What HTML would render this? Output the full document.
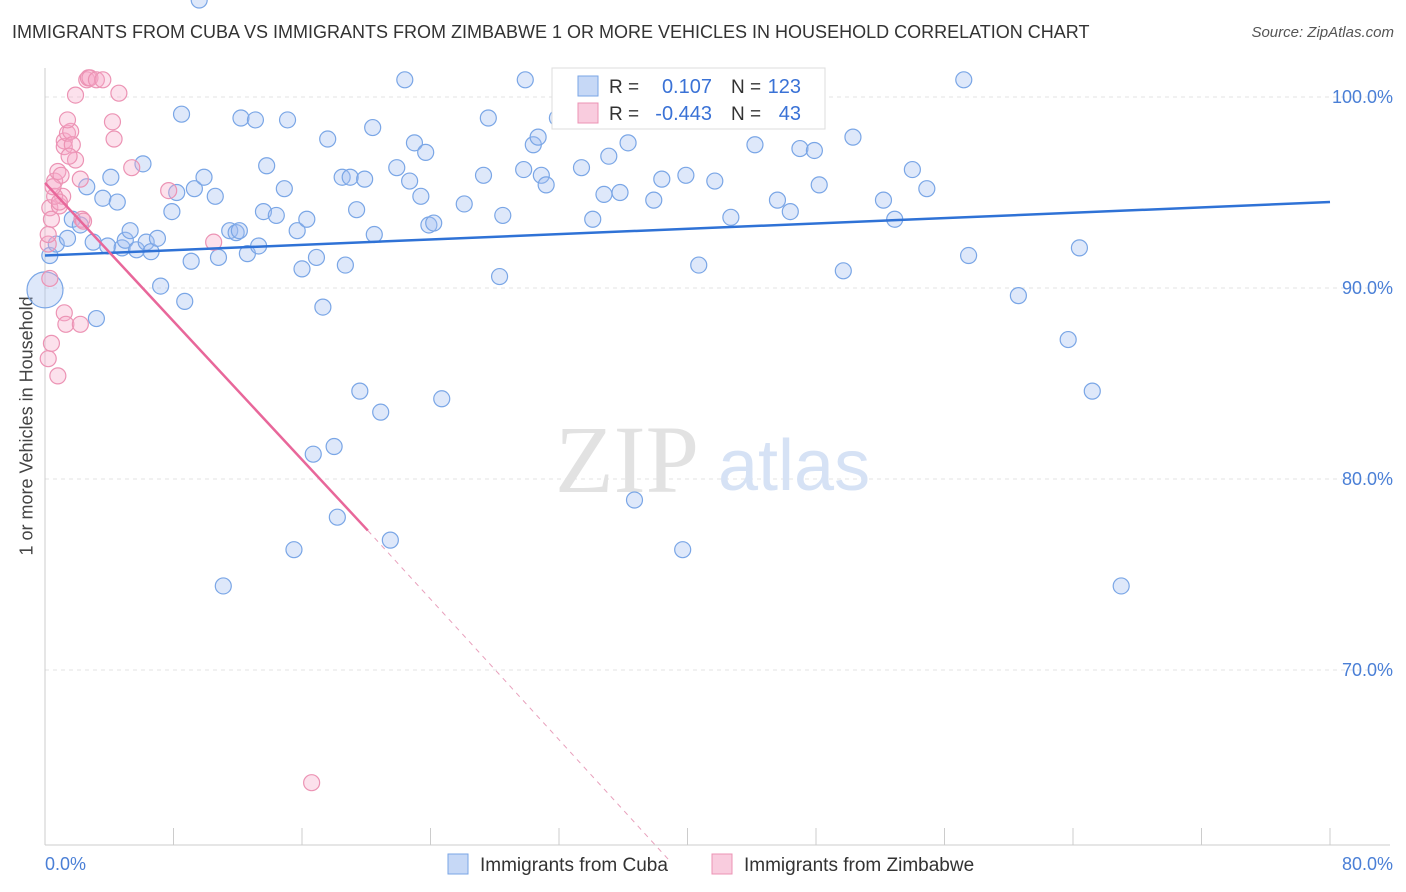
<!DOCTYPE html>
<html><head><meta charset="utf-8">
<style>
body{margin:0;background:#fff;font-family:"Liberation Sans",sans-serif;}
#wrap{position:relative;width:1406px;height:892px;overflow:hidden;}
.t{position:absolute;white-space:nowrap;}
</style></head>
<body>
<div id="wrap">
<div class="t" style="left:12px;top:22px;font-size:18px;color:#333;">IMMIGRANTS FROM CUBA VS IMMIGRANTS FROM ZIMBABWE 1 OR MORE VEHICLES IN HOUSEHOLD CORRELATION CHART</div>
<div class="t" style="right:12px;top:24px;font-size:15px;color:#555;font-style:italic;">Source: ZipAtlas.com</div>
<div class="t" style="left:-73px;top:445px;font-size:18px;color:#444;transform:rotate(-90deg);width:200px;text-align:center;">1 or more Vehicles in Household</div>
<svg id="svg" width="1406" height="892" style="position:absolute;left:0;top:0"></svg>
</div>
<script>
const xTicksLabels=["0.0%","80.0%"];
const yTicks=[100,90,80,70];
const cubaX=[0,0.3,0.7,1.4,1.7,2.2,2.6,3,3.2,3.6,3.9,4.1,4.5,4.8,5,5.3,5.7,6.1,6.3,6.6,7,7.2,7.9,8.2,8.5,8.7,9.1,9.3,9.9,10.6,10.8,11.5,11.9,12.1,12.2,12.6,13.1,13.3,13.6,13.8,14.4,14.9,15.1,15.5,15.7,16,16.3,16.7,16.9,17.3,17.6,18,18.2,18.5,18.7,19,19.4,19.6,19.9,20.4,20.5,20.9,21.5,21.9,22.4,22.7,23,23.4,23.7,23.9,24.2,24.7,26.1,27.3,27.6,28.3,28.5,29.8,29.9,30.4,30.7,30.9,31.2,31.9,33.4,34.1,34.8,35.1,35.8,36.3,36.7,37.9,38.4,39.7,39.9,40.7,41.7,42.7,44.2,45.6,46.4,47,47.9,48.2,49.7,50.3,52.2,52.9,54,54.9,57.2,57.5,60.6,63.7,64.4,65.2,67,11.1,9.6];
const cubaY=[89.9,91.7,92.3,92.6,93.6,93.3,95.3,92.4,88.4,94.7,92.2,95.8,94.5,92.1,92.5,93,92,96.5,92.4,91.9,92.6,90.1,94,95,99.1,89.3,91.4,95.2,95.8,94.8,91.6,93,92.9,93,98.9,91.8,98.8,92.2,94,96.4,93.8,95.2,98.8,76.3,93,91,93.6,81.3,91.6,89,97.8,81.7,78,95.8,91.2,95.8,94.1,84.6,95.7,98.4,92.8,83.5,76.8,96.3,100.9,95.6,97.6,94.8,97.1,93.3,93.4,84.2,94.4,95.9,98.9,90.6,93.8,96.2,100.9,97.5,97.9,95.9,95.4,98.9,96.3,93.6,94.9,96.9,95,97.6,78.9,94.6,95.7,76.3,95.9,91.2,95.6,93.7,97.5,94.6,94,97.3,97.2,95.4,90.9,97.9,94.6,93.6,96.2,95.2,100.9,91.7,89.6,87.3,92.1,84.6,74.4,74.4];
const zimX=[0.3,0.2,0.4,0.8,0.2,0.3,0.4,0.6,0.8,0.9,1,1.1,1.2,1.2,1.4,1.6,1.4,1.7,1.9,1.9,2.2,2.3,2.4,2.6,2.7,2.8,3.2,3.6,4.2,4.3,4.6,5.4,7.7,10.5,1.2,1.3,2.2,16.6,0.6,0.2,0.9,1.5,0.5];
const zimY=[90.5,86.3,87.1,85.4,92.3,94.2,93.6,95.6,96.1,94.3,95.9,94.8,97.7,97.4,98.1,98.2,98.8,97.5,96.7,100.1,95.7,93.6,93.5,100.9,101,101,100.9,100.9,98.7,97.8,100.2,96.3,95.1,92.4,88.7,88.1,88.1,64.1,94.8,92.8,94.5,96.9,95.3];
const blueLine=[[0,91.7],[80,94.5]];
const pinkLine=[[0,95.5],[20.1,77.3],[38.9,60]];

const svg=document.getElementById('svg');
const NS='http://www.w3.org/2000/svg';
const xs=v=>45+v/80*1285, ys=v=>97+(100-v)*19.1;
function mk(tag,attrs,name,parent){const e=document.createElementNS(NS,tag);for(const k in attrs)e.setAttribute(k,attrs[k]);


(parent||svg).appendChild(e);return e;}
yTicks.forEach(v=>{
 mk('line',{x1:45,x2:1390,y1:ys(v),y2:ys(v),stroke:'#e3e3e3','stroke-dasharray':'4,4'},'gridline');
 const t=mk('text',{x:1393,y:ys(v)+6,'text-anchor':'end','font-size':18,fill:'#4a7fd6','font-family':'Liberation Sans'},'y-tick-label');t.textContent=v.toFixed(1)+'%';
});
mk('line',{x1:45,x2:45,y1:68,y2:845,stroke:'#ccc'},'y-axis-line');
mk('line',{x1:45,x2:1390,y1:845,y2:845,stroke:'#ccc'},'x-axis-line');
for(let i=0;i<=10;i++){mk('line',{x1:xs(i*8),x2:xs(i*8),y1:828,y2:845,stroke:'#ccc'},'x-tick');}
let t=mk('text',{x:45,y:870,'font-size':18,fill:'#4a7fd6','font-family':'Liberation Sans'},'x-tick-label');t.textContent=xTicksLabels[0];
t=mk('text',{x:1393,y:870,'text-anchor':'end','font-size':18,fill:'#4a7fd6','font-family':'Liberation Sans'},'x-tick-label');t.textContent=xTicksLabels[1];
// watermark
t=mk('text',{x:555,y:492,'font-size':96,fill:'#e2e2e2','font-family':'Liberation Serif'},'watermark-zip');t.textContent='ZIP';
t=mk('text',{x:718,y:490,'font-size':72,fill:'#d6e2f5','font-family':'Liberation Sans'},'watermark-atlas');t.textContent='atlas';
cubaX.forEach((x,i)=>{mk('circle',{cx:xs(x),cy:ys(cubaY[i]),r:i==0?18:8,fill:'rgba(160,190,240,0.35)',stroke:'#7aa6e6','stroke-width':1.2},'cuba-point');});
zimX.forEach((x,i)=>{mk('circle',{cx:xs(x),cy:ys(zimY[i]),r:8,fill:'rgba(245,170,200,0.35)',stroke:'#ec93b4','stroke-width':1.2},'zimbabwe-point');});
mk('line',{x1:xs(blueLine[0][0]),y1:ys(blueLine[0][1]),x2:xs(blueLine[1][0]),y2:ys(blueLine[1][1]),stroke:'#2f72d6','stroke-width':2.5},'cuba-trend-line');
mk('line',{x1:xs(pinkLine[0][0]),y1:ys(pinkLine[0][1]),x2:xs(pinkLine[1][0]),y2:ys(pinkLine[1][1]),stroke:'#e8679a','stroke-width':2.5},'zimbabwe-trend-line');
mk('line',{x1:xs(pinkLine[1][0]),y1:ys(pinkLine[1][1]),x2:xs(pinkLine[2][0]),y2:ys(pinkLine[2][1]),stroke:'#e8a0bc','stroke-width':1,'stroke-dasharray':'5,5'},'zimbabwe-trend-extension');
// top legend
mk('rect',{x:552,y:68,width:273,height:61,fill:'#fff',stroke:'#ddd'},'stats-legend');
mk('rect',{x:578,y:76,width:20,height:20,fill:'rgba(160,190,240,0.6)',stroke:'#7aa6e6'},'stats-swatch-cuba');
mk('rect',{x:578,y:103,width:20,height:20,fill:'rgba(245,170,200,0.6)',stroke:'#ec93b4'},'stats-swatch-zimbabwe');
[[93,'0.107','123'],[120,'-0.443','43']].forEach(r=>{
 let a=mk('text',{x:609,y:r[0],'font-size':19,fill:'#333','font-family':'Liberation Sans'},'stats-r-label');a.textContent='R = ';
 a=mk('text',{x:712,y:r[0],'text-anchor':'end','font-size':20,fill:'#3a72d6','font-family':'Liberation Sans'},'stats-r-value');a.textContent=r[1];
 a=mk('text',{x:731,y:r[0],'font-size':19,fill:'#333','font-family':'Liberation Sans'},'stats-n-label');a.textContent='N = ';
 a=mk('text',{x:801,y:r[0],'text-anchor':'end','font-size':20,fill:'#3a72d6','font-family':'Liberation Sans'},'stats-n-value');a.textContent=r[2];
});
// bottom legend
mk('rect',{x:448,y:854,width:20,height:20,fill:'rgba(160,190,240,0.6)',stroke:'#7aa6e6'},'legend-swatch-cuba');
t=mk('text',{x:480,y:871,'font-size':19,fill:'#333','font-family':'Liberation Sans'},'legend-entry-cuba');t.textContent='Immigrants from Cuba';
mk('rect',{x:712,y:854,width:20,height:20,fill:'rgba(245,170,200,0.6)',stroke:'#ec93b4'},'legend-swatch-zimbabwe');
t=mk('text',{x:744,y:871,'font-size':19,fill:'#333','font-family':'Liberation Sans'},'legend-entry-zimbabwe');t.textContent='Immigrants from Zimbabwe';
</script>
</body></html>
